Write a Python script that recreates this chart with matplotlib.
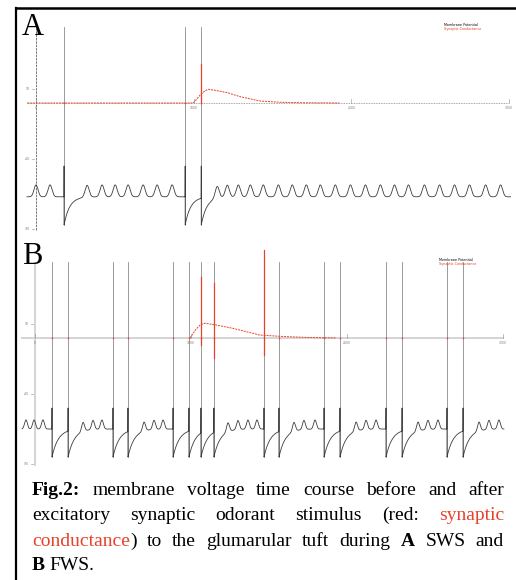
import numpy as np
import matplotlib
matplotlib.use("Agg")
import matplotlib.pyplot as plt
from matplotlib.lines import Line2D

W, H, DPI = 516, 580, 100

# ---------------- data ----------------
# times in ms, voltages in mV
# Panel A : slow-wave state (SWS)
a_span = (-57, 3010)
a_spikes = [178, 946, 1048]
a_bumps = [0, 89, 324, 419, 502, 584, 679, 768, 863, 1149, 1213, 1283, 1359,
           1441, 1537, 1625, 1714, 1803, 1898, 1994, 2089, 2184, 2273, 2362,
           2463, 2559, 2654, 2749, 2851, 2946]
a_levels = dict(rest=-67.0, bump=8.5, trough=-87.0, peak=54.0, thr=-45.0)
a_g_t = [-57, 997, 1041, 1070, 1092, 1124, 1213, 1295, 1422, 1550, 1700, 1924]
a_g_v = [0, 0, 5.7, 8.6, 9.8, 9.3, 7.4, 4.5, 1.4, 0.5, 0.2, 0]
a_g_spikes = [(1048, 0, 28)]

# Panel B : fast-wave state (FWS)
b_span = (-83, 3006)
b_spikes = [109, 212, 500, 596, 885, 987, 1064, 1147, 1468, 1564, 1853,
            1955, 2250, 2353, 2641, 2744]
b_bumps = [-58, -6, 51, 308, 372, 429, 699, 763, 821, 1237, 1301, 1365, 1423,
           1660, 1724, 1795, 2058, 2122, 2186, 2455, 2519, 2583, 2846, 2910,
           2974]
b_levels = dict(rest=-65.0, bump=6.5, trough=-85.0, peak=54.0, thr=-50.0)
b_g_t = [994, 1030, 1060, 1090, 1150, 1269, 1442, 1600, 1750, 1929]
b_g_v = [0, 6.0, 9.5, 10.5, 9.5, 6.9, 2.1, 1.0, 0.4, 0]
b_g_spikes = [(1064, -5, 43.6), (1147, -14, 39), (1468, -12, 63)]

y_ticks = [10, -40, -90]
x_ticks = [0, 1000, 2000, 3000]
legend_labels = ["Membrane Potential", "Synaptic Conductance"]

caption = [
    [[("Fig.2:", "k", True)], [("membrane", "k", False)], [("voltage", "k", False)],
     [("time", "k", False)], [("course", "k", False)], [("before", "k", False)],
     [("and", "k", False)], [("after", "k", False)]],
    [[("excitatory", "k", False)], [("synaptic", "k", False)], [("odorant", "k", False)],
     [("stimulus", "k", False)], [("(red:", "k", False)], [("synaptic", "red", False)]],
    [[("conductance", "red", False), (")", "k", False)], [("to", "k", False)],
     [("the", "k", False)], [("glumarular", "k", False)], [("tuft", "k", False)],
     [("during", "k", False)], [("A", "k", True)], [("SWS", "k", False)],
     [("and", "k", False)]],
    [[("B", "k", True)], [("FWS.", "k", False)]],
]

RED = "#e8402a"
TRACE = "#3c3c3c"
SPIKE = "#808080"


def build_trace(span, spikes, bumps, lv, bump_w, tau):
    t = np.arange(span[0], span[1], 0.5)
    base = np.full_like(t, lv["rest"])
    for b in bumps:
        base += lv["bump"] * np.exp(-((t - b) / bump_w) ** 2)
    v = base.copy()
    for i, ts in enumerate(spikes):
        nxt = spikes[i + 1] if i + 1 < len(spikes) else np.inf
        m = (t > ts) & (t < nxt)
        v[m] = base[m] + (lv["trough"] - lv["rest"]) * np.exp(-(t[m] - ts) / tau)
    # upstroke to threshold then straight down to the trough (dark part)
    T = np.concatenate([t, np.array(spikes, float) - 0.01, np.array(spikes, float)])
    V = np.concatenate([v, np.full(len(spikes), lv["thr"]), np.full(len(spikes), lv["trough"])])
    o = np.argsort(T, kind="stable")
    return T[o], V[o]


def make_axes(fig, px0, sx, py0, sy, xlim, ylim):
    left = px0 + sx * xlim[0]
    right = px0 + sx * xlim[1]
    top = py0 - sy * ylim[1]
    bottom = py0 - sy * ylim[0]
    ax = fig.add_axes([left / W, 1 - bottom / H, (right - left) / W, (bottom - top) / H])
    ax.set_xlim(xlim)
    ax.set_ylim(ylim)
    ax.axis("off")
    return ax


fig = plt.figure(figsize=(W / DPI, H / DPI), dpi=DPI)
fig.patch.set_facecolor("white")


def draw_panel(ax, span, spikes, bumps, lv, g_t, g_v, g_spk, style, bump_w, tau, leg_xy):
    ytop, ybot = 53.6, -90.7
    if style == "A":
        ax.plot([span[0], 3000], [0, 0], color="#8a8a8a", lw=0.6, ls=(0, (1, 1)), zorder=1)
        ax.plot([0, 0], [ybot, ytop], color="#666666", lw=0.6, ls=(0, (3, 1)), zorder=1)
    else:
        ax.plot([span[0], 3000], [0, 0], color="#d4d4d4", lw=1.4, zorder=1)
        ax.plot([0, 0], [ybot, ytop], color="#d4d4d4", lw=1.4, zorder=1)
    T, V = build_trace(span, spikes, bumps, lv, bump_w, tau)
    ax.plot(T, V, color=TRACE, lw=0.6, zorder=3)
    # thin spike lines (full height)
    for ts in spikes:
        ax.plot([ts, ts], [lv["trough"], lv["peak"]], color=SPIKE, lw=0.55, zorder=2)
    # conductance
    ax.plot(g_t, g_v, color=RED, lw=0.7, ls=(0, (2, 1)), zorder=4)
    for ts, lo, hi in g_spk:
        ax.plot([ts, ts], [lo, hi], color=RED, lw=0.9, zorder=5)
    for ts in spikes:
        ax.plot([ts], [0], marker="s", ms=1.0, color=RED, mec="none", zorder=5)
    # ticks
    for yt in y_ticks:
        ax.plot([-25, -12], [yt, yt], color="#888888", lw=0.4)
        ax.text(-40, yt, str(yt), fontsize=2.2, color="#777777", ha="right", va="center")
    for xt in x_ticks:
        ax.plot([xt, xt], [0, 3], color="#888888", lw=0.4)
        ax.text(xt, -2.0, str(xt), fontsize=2.2, color="#777777", ha="center", va="top")
    ax.text(leg_xy[0], leg_xy[1], legend_labels[0], fontsize=2.4, color="k", va="baseline")
    ax.text(leg_xy[0], leg_xy[1] - 2.6, legend_labels[1], fontsize=2.4, color=RED, va="baseline")


axA = make_axes(fig, 36, 0.1577, 103, 1.4, (-100, 3050), (-100, 62))
draw_panel(axA, a_span, a_spikes, a_bumps, a_levels, a_g_t, a_g_v, a_g_spikes,
           "A", 18, 35, (2590, 55))
axB = make_axes(fig, 35, 0.156, 338, 1.4, (-100, 3050), (-100, 70))
draw_panel(axB, b_span, b_spikes, b_bumps, b_levels, b_g_t, b_g_v, b_g_spikes,
           "B", 13, 40, (2590, 55))

# frame lines of the page crop
fig.add_artist(Line2D([16 / W, 1], [1 - 8 / H] * 2, color="k", lw=1.8, transform=fig.transFigure))
fig.add_artist(Line2D([16 / W] * 2, [0, 1 - 8 / H], color="k", lw=1.6, transform=fig.transFigure))

SERIF = "Liberation Serif"
fig.text(22 / W, 1 - 35 / H, "A", fontsize=22, family=SERIF, va="baseline")
fig.text(22 / W, 1 - 264 / H, "B", fontsize=22, family=SERIF, va="baseline")

# justified caption
fig.canvas.draw()
rend = fig.canvas.get_renderer()
CAP_FS = 14.0
LEFT, RIGHT = 32, 504
baselines = [495, 520, 546, 570]
for li, (words, yb) in enumerate(zip(caption, baselines)):
    widths = []
    arts = []
    for word in words:
        wa = []
        ww = []
        for txt, col, bold in word:
            a = fig.text(0, 0, txt, fontsize=CAP_FS, family=SERIF,
                         color=RED if col == "red" else "k",
                         weight="bold" if bold else "normal", va="baseline")
            wa.append(a)
            ww.append(a.get_window_extent(rend).width)
        arts.append(wa)
        widths.append(ww)
    total = sum(sum(w) for w in widths)
    if li < len(caption) - 1:
        gap = (RIGHT - LEFT - total) / (len(words) - 1)
    else:
        gap = CAP_FS * 1.389 * 0.25
    x = LEFT
    for wa, ww in zip(arts, widths):
        for a, w in zip(wa, ww):
            a.set_position((x / W, 1 - yb / H))
            x += w
        x += gap

fig.savefig("out.png", dpi=DPI, facecolor="white")
